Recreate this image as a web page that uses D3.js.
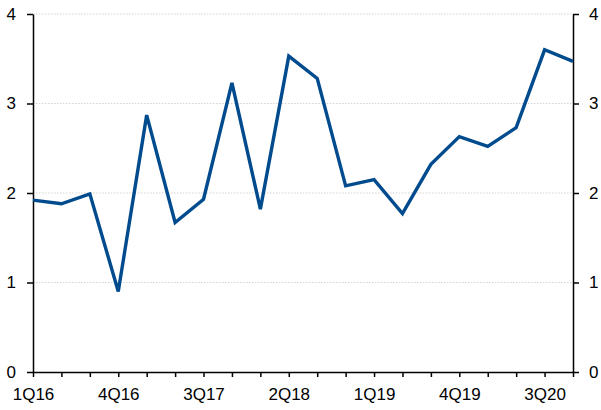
<!DOCTYPE html>
<html>
<head>
<meta charset="utf-8">
<script src="https://cdn.jsdelivr.net/npm/d3@7"></script>
<style>
  body { margin: 0; background: #fff; }
  svg text { font-family: "Liberation Sans", Arial, sans-serif; }
</style>
</head>
<body>
<div id="chart-area"></div>
<script>
// quarters 1Q16 .. 4Q20
var quarters = ["1Q16","2Q16","3Q16","4Q16","1Q17","2Q17","3Q17","4Q17",
                "1Q18","2Q18","3Q18","4Q18","1Q19","2Q19","3Q19","4Q19",
                "1Q20","2Q20","3Q20","4Q20"];
var values = [1.92, 1.88, 1.99, 0.90, 2.87, 1.67, 1.93, 3.23,
              1.82, 3.53, 3.28, 2.08, 2.15, 1.77, 2.32, 2.63,
              2.52, 2.73, 3.60, 3.47];
var tickLabels = ["1Q16","4Q16","3Q17","2Q18","1Q19","4Q19","3Q20"];
var yTicks = [0, 1, 2, 3, 4];

var margin = { left: 33, right: 28, top: 14, bottom: 38 };
var width = 601 - margin.left - margin.right,
    height = 410 - margin.top - margin.bottom;

var svg = d3.select("#chart-area")
    .append("svg")
        .attr("width", 601)
        .attr("height", 410);

var g = svg.append("g")
    .attr("transform", "translate(" + margin.left + "," + margin.top + ")");

// X Scale
var x = d3.scalePoint()
    .domain(quarters)
    .range([0, width]);

// Y Scale
var y = d3.scaleLinear()
    .domain([0, 4])
    .range([height, 0]);

// gridlines
g.selectAll(".grid")
    .data(yTicks.slice(1))
    .enter().append("line")
        .attr("class", "grid")
        .attr("x1", 0)
        .attr("x2", width)
        .attr("y1", function(d){ return y(d); })
        .attr("y2", function(d){ return y(d); })
        .attr("stroke", "#c8c8c8")
        .attr("stroke-width", 0.8)
        .attr("stroke-dasharray", "1.5,1.5");

// X Axis
var xAxis = g.append("g")
    .attr("transform", "translate(0," + height + ")")
    .call(d3.axisBottom(x)
        .tickSizeInner(5).tickSizeOuter(0)
        .tickFormat(function(d){ return tickLabels.indexOf(d) >= 0 ? d : ""; }));

// Y Axes
var yLeft = g.append("g")
    .call(d3.axisLeft(y).tickValues(yTicks).tickSizeInner(6).tickSizeOuter(0).tickPadding(11)
        .tickFormat(d3.format("d")));

var yRight = g.append("g")
    .attr("transform", "translate(" + width + ",0)")
    .call(d3.axisRight(y).tickValues(yTicks).tickSizeInner(6).tickSizeOuter(0).tickPadding(10)
        .tickFormat(d3.format("d")));

[xAxis, yLeft, yRight].forEach(function(a){
    a.select(".domain").attr("stroke", "#000").attr("stroke-width", 1.5);
    a.selectAll(".tick line").attr("stroke", "#000").attr("stroke-width", 1.5);
    a.selectAll(".tick text")
        .attr("fill", "#000")
        .attr("font-size", "17px")
        .attr("font-family", "Liberation Sans, Arial, sans-serif");
});
xAxis.selectAll(".tick text").attr("dy", "1.18em");

// line
var line = d3.line()
    .x(function(d, i){ return x(quarters[i]); })
    .y(function(d){ return y(d); });

g.append("path")
    .datum(values)
    .attr("fill", "none")
    .attr("stroke", "#004b8d")
    .attr("stroke-width", 3.4)
    .attr("stroke-linejoin", "miter")
    .attr("d", line);
</script>
</body>
</html>
